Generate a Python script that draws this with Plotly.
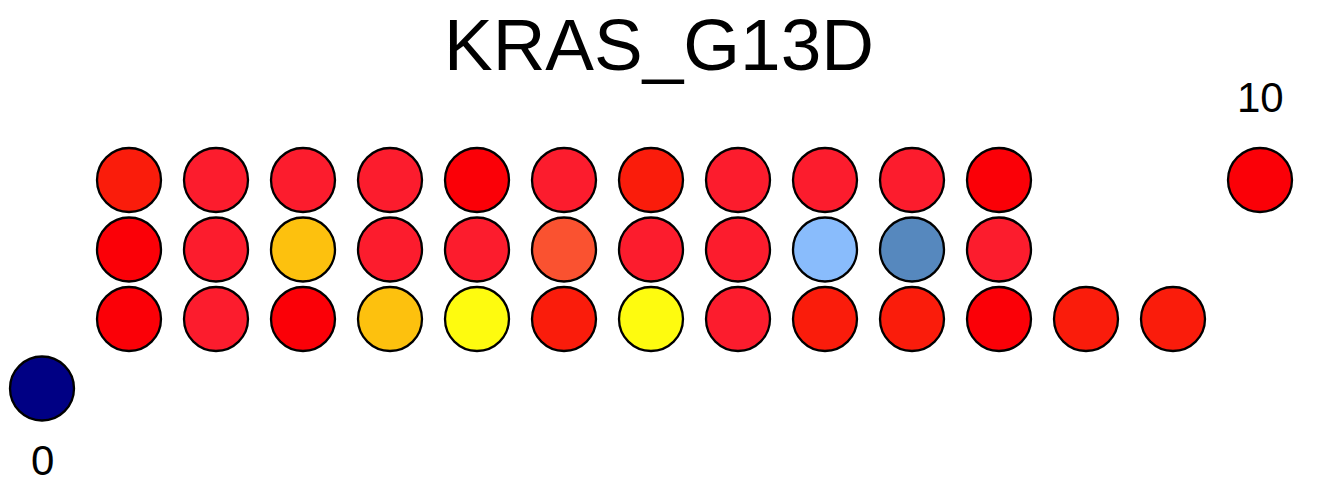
import plotly.graph_objects as go

# Data: each circle's column, row and fill colour
RED = "#FB0007"
PINK = "#FC1C2D"
ORED = "#FA1C0B"
AMBER = "#FDC10E"
YELLOW = "#FEFB0F"
ORANGE = "#FA5230"
LBLUE = "#89BCFC"
SBLUE = "#5688BE"
NAVY = "#000084"

columns = [0,
           1, 1, 1,
           2, 2, 2,
           3, 3, 3,
           4, 4, 4,
           5, 5, 5,
           6, 6, 6,
           7, 7, 7,
           8, 8, 8,
           9, 9, 9,
           10, 10, 10,
           11, 11, 11,
           12, 13, 14]
rows = [0,
        1, 2, 3,
        1, 2, 3,
        1, 2, 3,
        1, 2, 3,
        1, 2, 3,
        1, 2, 3,
        1, 2, 3,
        1, 2, 3,
        1, 2, 3,
        1, 2, 3,
        1, 2, 3,
        1, 1, 3]
colors = [NAVY,
          RED, RED, ORED,
          PINK, PINK, PINK,
          RED, AMBER, PINK,
          AMBER, PINK, PINK,
          YELLOW, PINK, RED,
          ORED, ORANGE, PINK,
          YELLOW, PINK, ORED,
          PINK, PINK, PINK,
          ORED, LBLUE, PINK,
          ORED, SBLUE, PINK,
          RED, PINK, RED,
          ORED, ORED, RED]

end_labels = ["0", "10"]
end_label_cols = [0, 14]
end_label_rows = [0, 3]
title_text = "KRAS_G13D"

fig = go.Figure()
fig.add_trace(go.Scatter(
    x=columns, y=rows, mode="markers",
    marker=dict(size=64, color=colors, line=dict(color="black", width=2.3)),
    hoverinfo="skip", showlegend=False,
))

shifts = [-72, 83]
for lab, c, r, s in zip(end_labels, end_label_cols, end_label_rows, shifts):
    fig.add_annotation(x=c, y=r, text=lab, showarrow=False, yshift=s,
                       font=dict(family="Liberation Sans, Arial", size=42, color="black"))

W, H = 1334, 495
x0 = -42 / 87.0
x1 = x0 + W / 87.0
yhi = 388.5 / 69.5
ylo = yhi - H / 69.5

fig.update_layout(
    width=W, height=H,
    margin=dict(l=0, r=0, t=0, b=0),
    paper_bgcolor="white", plot_bgcolor="white",
    title=dict(text=title_text, x=659 / W, xanchor="center",
               y=1 - 44 / H, yanchor="middle",
               font=dict(family="Liberation Sans, Arial", size=73, color="black")),
    xaxis=dict(range=[x0, x1], visible=False, fixedrange=True),
    yaxis=dict(range=[ylo, yhi], visible=False, fixedrange=True),
)

fig.write_html("out.html")
